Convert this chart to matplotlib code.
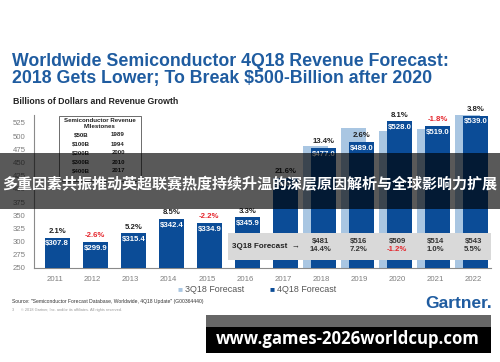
import numpy as np
import matplotlib
matplotlib.use("Agg")
import matplotlib.pyplot as plt
from matplotlib.patches import Rectangle

plt.rcParams['font.family'] = ['Liberation Sans', 'DejaVu Sans']

# Data
years = ["2011", "2012", "2013", "2014", "2015", "2016",
         "2017", "2018", "2019", "2020", "2021", "2022"]
rev_4q18 = [307.8, 299.9, 315.4, 342.4, 334.9, 345.9,
            420.4, 477.0, 489.0, 528.0, 519.0, 539.0]
growth_4q18 = ["2.1%", "-2.6%", "5.2%", "8.5%", "-2.2%", "3.3%",
               "21.6%", "13.4%", "2.6%", "8.1%", "-1.8%", "3.8%"]
fc_years = ["2018", "2019", "2020", "2021", "2022"]
rev_3q18 = [481, 516, 509, 514, 543]
growth_3q18 = ["14.4%", "7.2%", "-1.2%", "1.0%", "5.5%"]
milestones = ["$50B", "$100B", "$200B", "$300B", "$400B"]
milestone_years = ["1989", "1994", "2000", "2010", "2017"]
yticks = [250, 275, 300, 325, 350, 375, 400, 425, 450, 475, 500, 525]

DARK = "#0b4c97"
LIGHT = "#a9c6e2"
BLUE_T = "#1f5ca0"
RED = "#e5262d"
GRAY = "#7f7f7f"

W, H = 500, 362


def fx(x):
    return x / W


def fy(y):
    return 1 - y / H


fig = plt.figure(figsize=(5, 3.62), dpi=100)
fig.patch.set_facecolor("white")

# titles
fig.text(fx(12), fy(61), "Worldwide Semiconductor 4Q18 Revenue Forecast:",
         color=BLUE_T, fontsize=12.8, fontweight="bold", va="center")
fig.text(fx(12), fy(79), "2018 Gets Lower; To Break $500-Billion after 2020",
         color=BLUE_T, fontsize=12.8, fontweight="bold", va="center")
fig.text(fx(13), fy(102), "Billions of Dollars and Revenue Growth",
         color="#222222", fontsize=6.3, fontweight="bold", va="center")

ax = fig.add_axes([fx(34), fy(268), fx(491 - 34), (268 - 115) / H])
x = np.arange(len(years))
xf = x[7:]

ax.bar(xf - 0.14, rev_3q18, width=0.66, color=LIGHT, zorder=2)
ax.bar(x + 0.07, rev_4q18, width=0.66, color=DARK, zorder=3)

for i in range(len(years)):
    ax.text(x[i] + 0.07, rev_4q18[i] - 12, "$%.1f" % rev_4q18[i], color="white",
            fontsize=5.6, fontweight="bold", ha="center", va="center", zorder=4)
    col = RED if growth_4q18[i].startswith("-") else "#222222"
    ax.text(x[i] + 0.07, rev_4q18[i] + 12, growth_4q18[i], color=col,
            fontsize=5.6, fontweight="bold", ha="center", va="center", zorder=4)

# 3Q18 forecast box


def vy(py):
    return 250 + (268 - py) / 0.5276


ax.add_patch(Rectangle((4.56, vy(260)), 11.47 - 4.56, vy(233) - vy(260),
                       facecolor="#d9d9d9", edgecolor="none", zorder=5))
ax.text(4.66, vy(246.5), "3Q18 Forecast  \u2192", fontsize=5.8,
        fontweight="bold", color="#222222", va="center", ha="left", zorder=6)
for j in range(len(fc_years)):
    ax.text(xf[j], vy(241.5), "$%d" % rev_3q18[j], fontsize=5.6, fontweight="bold",
            color="#333333", ha="center", va="center", zorder=6)
    col = RED if growth_3q18[j].startswith("-") else "#333333"
    ax.text(xf[j], vy(249.5), growth_3q18[j], fontsize=5.6, fontweight="bold",
            color=col, ha="center", va="center", zorder=6)

ax.set_xlim(-0.54, 11.47)
ax.set_ylim(250, 540)
ax.set_yticks(yticks)
ax.set_xticks(x)
ax.set_xticklabels(years)
ax.tick_params(length=0, labelsize=5.6, colors=GRAY, pad=6)
for s in ["top", "right"]:
    ax.spines[s].set_visible(False)
for s in ["left", "bottom"]:
    ax.spines[s].set_color("#8a8a8a")
    ax.spines[s].set_linewidth(0.8)

# milestones table
fig.patches.append(Rectangle((fx(59), fy(181)), fx(141 - 59), (181 - 116) / H,
                             transform=fig.transFigure, facecolor="white",
                             edgecolor="#555555", linewidth=0.6, zorder=3))
fig.text(fx(100), fy(120.5), "Semiconductor Revenue", fontsize=4.4, fontweight="bold",
         ha="center", va="center", color="#222222", zorder=4)
fig.text(fx(100), fy(126.5), "Milestones", fontsize=4.4, fontweight="bold",
         ha="center", va="center", color="#222222", zorder=4)
for k in range(len(milestones)):
    yy = 135 + k * 9
    fig.text(fx(81), fy(yy), milestones[k], fontsize=4.4, fontweight="bold",
             ha="center", va="center", color="#222222", zorder=4)
    fig.text(fx(118), fy(yy), milestone_years[k], fontsize=4.4, fontweight="bold",
             ha="center", va="center", color="#222222", zorder=4)

# legend
fig.text(fx(178), fy(290), "\u25a0", color=LIGHT, fontsize=6, va="center")
fig.text(fx(185), fy(290), "3Q18 Forecast", color="#555555", fontsize=6.4, va="center")
fig.text(fx(270), fy(290), "\u25a0", color=DARK, fontsize=6, va="center")
fig.text(fx(277), fy(290), "4Q18 Forecast", color="#555555", fontsize=6.4, va="center")

# footer
fig.text(fx(12), fy(302),
         'Source: "Semiconductor Forecast Database, Worldwide, 4Q18 Update" (G00364440)',
         fontsize=3.6, color="#333333", va="center")
fig.text(fx(12), fy(309.5),
         "3      \u00a9 2018 Gartner, Inc. and/or its affiliates. All rights reserved.",
         fontsize=2.8, color="#999999", va="center")
fig.text(fx(492), fy(304), "Gartner.", fontsize=12.5, fontweight="bold",
         color=BLUE_T, ha="right", va="center")

# overlay banner
fig.patches.append(Rectangle((0, fy(209)), 1, (209 - 153) / H, transform=fig.transFigure,
                             facecolor="black", alpha=0.65, edgecolor="none", zorder=10))
fig.text(0.5, fy(184), "多重因素共振推动英超联赛热度持续升温的深层原因解析与全球影响力扩展",
         family=["Noto Sans CJK SC", "DejaVu Sans"], fontweight="bold",
         fontsize=10.8, color="white", ha="center", va="center", zorder=11)

# watermark
fig.patches.append(Rectangle((fx(206), fy(327)), fx(491 - 206), (327 - 315) / H,
                             transform=fig.transFigure, facecolor="#666666",
                             edgecolor="none", zorder=10))
fig.patches.append(Rectangle((fx(206), fy(353)), fx(491 - 206), (353 - 327) / H,
                             transform=fig.transFigure, facecolor="black",
                             edgecolor="none", zorder=10))
fig.text(fx(348), fy(339), "www.games-2026worldcup.com", family=["Open Sans", "DejaVu Sans"],
         fontweight="bold", fontsize=12.1, color="white", ha="center", va="center", zorder=11)

fig.savefig("out.png", dpi=100)
